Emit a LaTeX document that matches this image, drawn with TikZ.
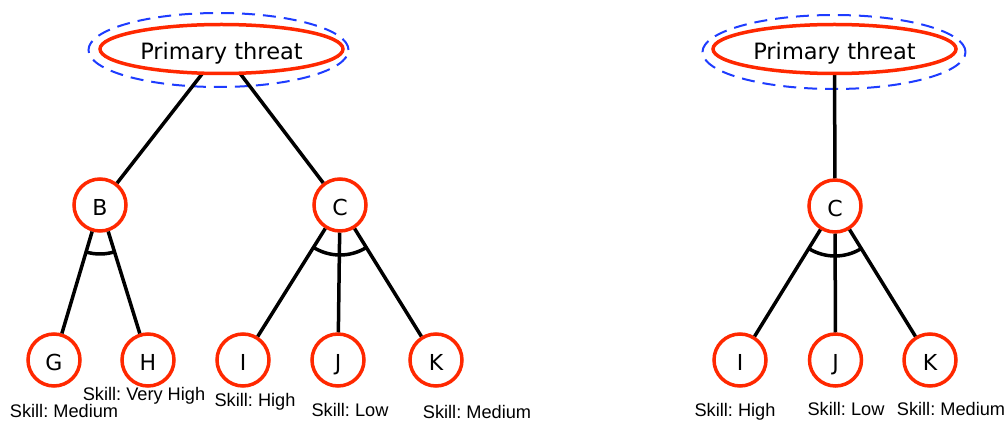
\documentclass[tikz,border=0pt]{standalone}
\usepackage{fontspec}
\setmainfont{DejaVu Sans}
\newfontfamily\labelfont{Liberation Sans}
\usetikzlibrary{shapes.geometric,calc}
\frenchspacing
\definecolor{nodered}{RGB}{255,40,0}
\definecolor{ringblue}{RGB}{30,60,255}
\tikzset{
  goal/.style={ellipse, draw=nodered, line width=3.5pt, fill=white,
    minimum width=243pt, minimum height=49pt, inner sep=0pt,
    font=\fontsize{22.5}{26}\selectfont},
  ring/.style={ellipse, draw=ringblue, line width=2pt, dash pattern=on 13pt off 8pt,
    minimum width=260pt, minimum height=74pt, inner sep=0pt},
  leaf/.style={circle, draw=nodered, line width=3.5pt, fill=white,
    minimum size=52pt, inner sep=0pt, font=\fontsize{22}{25}\selectfont},
  link/.style={line width=3.5pt, black},
  andarc/.style={line width=3.5pt, black},
  skill/.style={inner sep=0pt, font=\labelfont\fontsize{18.2}{21}\selectfont}
}
% text set on a baseline a fixed distance below the node centre
\newcommand{\lowered}[1]{\raisebox{-10.8pt}[0pt][0pt]{#1}}
\newcommand{\goaltext}{\raisebox{-10.5pt}[0pt][0pt]{Primary threat}}
\begin{document}
\begin{tikzpicture}[x=1pt,y=1pt]
  \useasboundingbox (0,0) rectangle (1007,-422);

  % ---------- left tree ----------
  \node[ring] (ringL) at (218.5,-50) {};
  \node[leaf] (B)  at (100,-205) {\lowered{B}};
  \node[leaf] (C)  at (340,-205) {\lowered{C}};
  \node[leaf] (G)  at (54,-360)  {\lowered{G}};
  \node[leaf] (H)  at (148,-360) {\lowered{H}};
  \node[leaf] (I)  at (243,-360) {\lowered{I}};
  \node[leaf] (J)  at (338,-360) {\lowered{J}};
  \node[leaf] (K)  at (436,-360) {\lowered{K}};

  \draw[link] (221.5,-49) -- (B);
  \draw[link] (221.5,-49) -- (C);
  \node[goal] (ptL) at (221.5,-49) {\goaltext};

  \draw[link] (B) -- (G);
  \draw[link] (B) -- (H);
  \draw[link] (C) -- (I);
  \draw[link] (C) -- (J);
  \draw[link] (C) -- (K);

  \draw[andarc] let \p1=($(G)-(B)$), \p2=($(H)-(B)$),
    \n1={atan2(\y1,\x1)}, \n2={atan2(\y2,\x2)} in
    ($(B)+(\n1:49pt)$) arc[start angle=\n1, end angle=\n2, radius=49pt];
  \draw[andarc] let \p1=($(I)-(C)$), \p2=($(K)-(C)$),
    \n1={atan2(\y1,\x1)}, \n2={atan2(\y2,\x2)} in
    ($(C)+(\n1:50pt)$) arc[start angle=\n1, end angle=\n2, radius=50pt];

  \node[skill] (sG) at (64,-411)  {Skill: Medium};
  \node[skill] (sH) at (144,-396) {Skill: Very High};
  \node[skill] (sI) at (255,-402) {Skill: High};
  \node[skill] (sJ) at (350,-410) {Skill: Low};
  \node[skill] (sK) at (477,-412) {Skill: Medium};

  % ---------- right tree ----------
  \node[ring, minimum width=263pt] (ringR) at (834,-52) {};
  \node[leaf] (C2) at (835,-206) {\lowered{C}};
  \node[leaf] (I2) at (740,-360) {\lowered{I}};
  \node[leaf] (J2) at (835.5,-360) {\lowered{J}};
  \node[leaf] (K2) at (930,-360) {\lowered{K}};

  \draw[link] (834.5,-49) -- (C2);
  \node[goal] (ptR) at (834.5,-49) {\goaltext};

  \draw[link] (C2) -- (I2);
  \draw[link] (C2) -- (J2);
  \draw[link] (C2) -- (K2);

  \draw[andarc] let \p1=($(I2)-(C2)$), \p2=($(K2)-(C2)$),
    \n1={atan2(\y1,\x1)}, \n2={atan2(\y2,\x2)} in
    ($(C2)+(\n1:50pt)$) arc[start angle=\n1, end angle=\n2, radius=50pt];

  \node[skill] (sI2) at (735,-412) {Skill: High};
  \node[skill] (sJ2) at (846,-409) {Skill: Low};
  \node[skill] (sK2) at (951,-409) {Skill: Medium};
\end{tikzpicture}
\end{document}
